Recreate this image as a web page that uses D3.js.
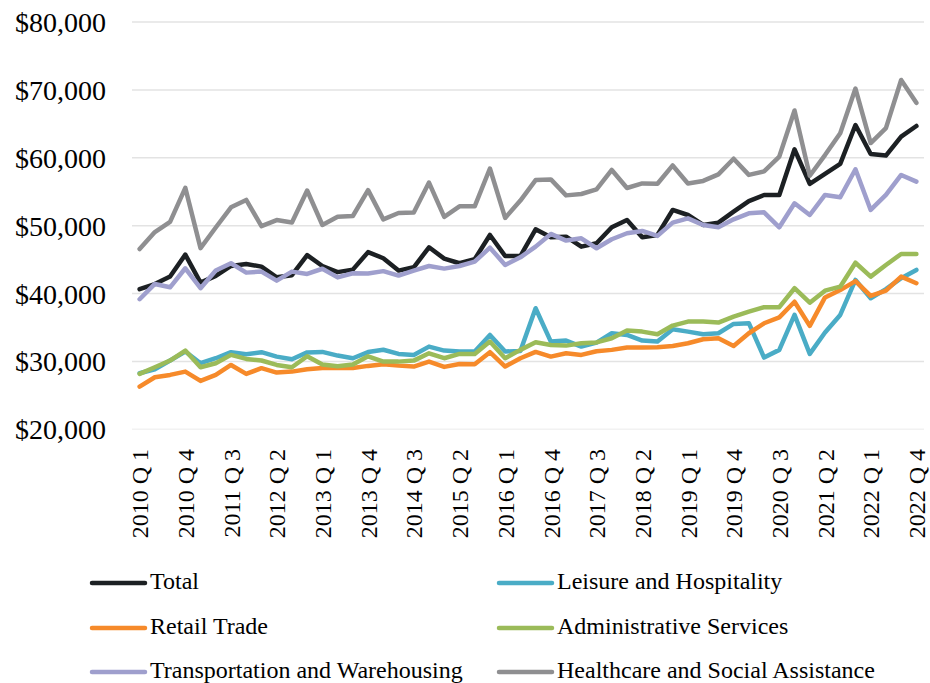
<!DOCTYPE html>
<html>
<head>
<meta charset="utf-8">
<script src="https://cdn.jsdelivr.net/npm/d3@7"></script>
<style>
  html, body { margin: 0; padding: 0; background: #ffffff; }
  svg { display: block; }
  text { font-family: "Liberation Serif", "Times New Roman", serif; fill: #000; }
</style>
</head>
<body>
<svg id="chart" width="930" height="683"></svg>
<script>
// Quarters 2010 Q 1 … 2022 Q 4
const years = d3.range(2010, 2023);
const quarters = [1, 2, 3, 4];
const categories = years.flatMap(y => quarters.map(q => `${y} Q ${q}`));

// Axis ticks
const yTicks = [20000, 30000, 40000, 50000, 60000, 70000, 80000];
const xTickLabels = categories.filter((d, i) => i % 3 === 0);

// Average quarterly wages by sector (USD)
const total = [40640, 41400, 42500, 45730, 41600, 42600, 44060, 44360, 43960, 42400, 42700, 45660, 44050, 43150, 43520, 46100, 45200, 43380, 43870, 46810, 45150, 44460, 45050, 48630, 45530, 45530, 49460, 48280, 48380, 46910, 47400, 49760, 50840, 48280, 48630, 52310, 51570, 50100, 50440, 52060, 53620, 54520, 54520, 61250, 56140, 57610, 59090, 64830, 60560, 60320, 63120, 64680];
const leisure = [28260, 28850, 30130, 31450, 29740, 30470, 31360, 31060, 31360, 30710, 30320, 31330, 31400, 30860, 30470, 31380, 31720, 31110, 30960, 32180, 31600, 31450, 31450, 33900, 31450, 31550, 37840, 32920, 33070, 32180, 32770, 34150, 33900, 33070, 32920, 34740, 34390, 34000, 34150, 35520, 35640, 30570, 31700, 36850, 31110, 34250, 36850, 42000, 39300, 40640, 42260, 43480];
const retail = [26290, 27670, 28010, 28500, 27130, 28010, 29480, 28160, 29000, 28350, 28500, 28850, 29020, 29020, 29020, 29340, 29590, 29380, 29240, 29970, 29190, 29630, 29590, 31360, 29240, 30470, 31400, 30710, 31200, 30960, 31500, 31700, 32040, 32040, 32090, 32280, 32670, 33260, 33410, 32280, 34150, 35620, 36490, 38790, 35230, 39430, 40510, 41830, 39650, 40420, 42490, 41520];
const admin = [28160, 29140, 30130, 31600, 29140, 29730, 30960, 30370, 30130, 29480, 29140, 30760, 29550, 29290, 29550, 30760, 29970, 29970, 30120, 31200, 30470, 31100, 31100, 32920, 30470, 31700, 32820, 32430, 32330, 32670, 32800, 33410, 34540, 34390, 34000, 35280, 35870, 35870, 35720, 36600, 37330, 37990, 37990, 40780, 38650, 40420, 41010, 44540, 42490, 44210, 45830, 45830];
const transport = [39160, 41410, 40920, 43720, 40780, 43380, 44460, 43080, 43230, 41900, 43230, 42890, 43650, 42380, 42990, 42940, 43300, 42640, 43380, 44060, 43670, 44060, 44700, 46760, 44210, 45340, 46910, 48780, 47800, 48140, 46670, 48000, 48880, 49220, 48490, 50440, 51080, 50100, 49760, 50930, 51810, 51960, 49760, 53290, 51570, 54520, 54180, 58310, 52310, 54520, 57470, 56480];
const healthcare = [46560, 49060, 50550, 55570, 46690, 49730, 52700, 53790, 49930, 50820, 50470, 55180, 50100, 51310, 51420, 55230, 50920, 51860, 51930, 56350, 51300, 52850, 52850, 58420, 51140, 53690, 56710, 56810, 54460, 54660, 55330, 58200, 55550, 56220, 56170, 58870, 56220, 56590, 57560, 59860, 57480, 58000, 60180, 66970, 57350, 60400, 63600, 70200, 62170, 64370, 71460, 68100];

const seriesNames = ["Total", "Leisure and Hospitality", "Retail Trade", "Administrative Services", "Transportation and Warehousing", "Healthcare and Social Assistance"];
const seriesValues = [total, leisure, retail, admin, transport, healthcare];
const seriesColors = ["#1c2023", "#4aacc6", "#f68a2a", "#9bbb59", "#9f9fcd", "#8f8f91"];

const svg = d3.select("#chart");
const plot = { left: 132, right: 924, top: 22, bottom: 429.3 };

const x = d3.scalePoint().domain(categories).range([plot.left, plot.right]).padding(0.5);
const y = d3.scaleLinear().domain([20000, 80000]).range([plot.bottom, plot.top]);

// Horizontal gridlines
svg.append("g")
  .selectAll("line")
  .data(yTicks)
  .join("line")
  .attr("x1", plot.left).attr("x2", plot.right)
  .attr("y1", d => y(d)).attr("y2", d => y(d))
  .attr("stroke", d => d === 20000 ? "#f2f2f2" : "#e3e3e3")
  .attr("stroke-width", 1.5);

// Y axis labels
const fmt = d => "$" + d3.format(",")(d);
const yAxis = svg.append("g")
  .attr("transform", `translate(106,0)`)
  .call(d3.axisLeft(y).tickValues(yTicks).tickFormat(fmt).tickSize(0).tickPadding(0));
yAxis.select(".domain").remove();
yAxis.selectAll("text")
  .attr("font-size", 28)
  .attr("font-family", "Liberation Serif, Times New Roman, serif")
  .attr("fill", "#000")
  .attr("x", 0)
  .attr("dy", "0.34em");

// X axis labels (rotated)
const xAxis = svg.append("g")
  .attr("transform", `translate(0,449)`)
  .call(d3.axisBottom(x).tickValues(xTickLabels).tickSize(0).tickPadding(0));
xAxis.select(".domain").remove();
xAxis.selectAll("text")
  .attr("font-size", 24)
  .attr("font-family", "Liberation Serif, Times New Roman, serif")
  .attr("fill", "#000")
  .attr("text-anchor", "end")
  .attr("transform", "rotate(-90)")
  .attr("x", 0)
  .attr("y", 0)
  .attr("dy", "0.34em");

// Series lines
const line = d3.line()
  .x((d, i) => x(categories[i]))
  .y(d => y(d));

svg.append("g")
  .selectAll("path")
  .data(seriesValues)
  .join("path")
  .attr("d", d => line(d))
  .attr("fill", "none")
  .attr("stroke", (d, i) => seriesColors[i])
  .attr("stroke-width", 4.5)
  .attr("stroke-linejoin", "round")
  .attr("stroke-linecap", "round");

// Legend: two columns, three rows
const legendCols = [92, 499];
const legendRows = [583, 628, 672];
const legend = svg.append("g")
  .selectAll("g")
  .data(seriesNames)
  .join("g")
  .attr("transform", (d, i) => `translate(${legendCols[i % 2]},${legendRows[Math.floor(i / 2)]})`);
legend.append("line")
  .attr("x1", 0).attr("x2", 53)
  .attr("y1", 0).attr("y2", 0)
  .attr("stroke", (d, i) => seriesColors[i])
  .attr("stroke-width", 4.5)
  .attr("stroke-linecap", "round");
legend.append("text")
  .attr("x", 58)
  .attr("y", 0)
  .attr("dy", "0.25em")
  .attr("font-size", 24)
  .text(d => d);
</script>
</body>
</html>
